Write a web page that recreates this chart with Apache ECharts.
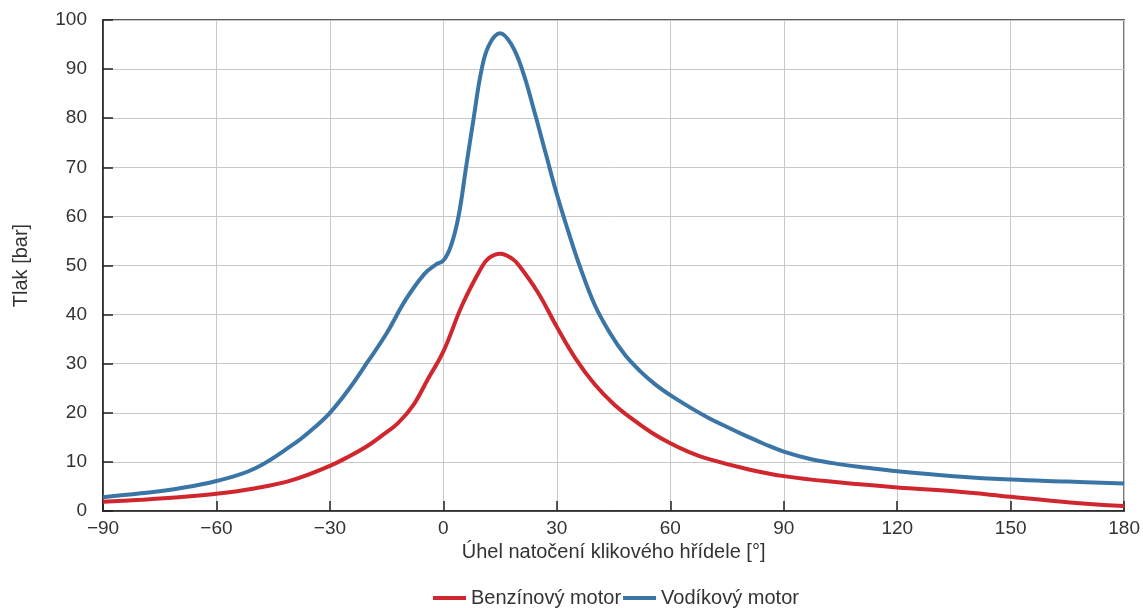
<!DOCTYPE html>
<html lang="cs">
<head>
<meta charset="utf-8">
<title>Tlak ve válci</title>
<script src="https://cdn.jsdelivr.net/npm/echarts@6/dist/echarts.min.js"></script>
<style>
  html, body { margin: 0; padding: 0; background: #ffffff; }
  #chart { width: 1143px; height: 608px; }
</style>
</head>
<body>
<div id="chart"></div>
<script>
// Úhel natočení klikového hřídele [°] a tlak [bar] – benzínový motor
const angleBenzin = [-90, -80, -70, -60, -50, -40, -30, -25, -20, -16, -12, -8, -4, 0, 5, 10, 12, 15, 18, 20, 25, 30, 35, 40, 45, 50, 55, 60, 65, 70, 80, 90, 105, 120, 135, 150, 165, 180];
const pressureBenzin = [1.9, 2.3, 2.8, 3.5, 4.6, 6.3, 9.2, 11.1, 13.3, 15.5, 17.9, 21.5, 27, 32.5, 42, 49.5, 51.5, 52.4, 51.5, 50, 44.5, 37.5, 31, 25.8, 21.8, 18.7, 16.0, 13.8, 12.0, 10.6, 8.6, 7.1, 5.8, 4.8, 4.0, 2.9, 1.8, 1.0];

// Vodíkový motor
const angleVodik = [-90, -80, -70, -60, -50, -40, -35, -30, -25, -20, -15, -10, -5, -2, 0, 2, 4, 6, 8, 10, 12, 15, 18, 21, 24, 27, 30, 33, 36, 40, 44, 48, 52, 56, 60, 65, 70, 75, 80, 85, 90, 97, 105, 112, 120, 135, 150, 165, 180];
const pressureVodik = [2.8, 3.6, 4.6, 6.1, 8.6, 13.4, 16.4, 20, 24.8, 30.4, 36.2, 43, 48.3, 50.2, 51, 54, 60, 70, 80, 89.5, 94.8, 97.3, 95, 89.5, 81.5, 73, 64.5, 57, 50, 42, 36.3, 31.8, 28.5, 25.8, 23.6, 21.2, 19.0, 17.1, 15.3, 13.6, 12.1, 10.6, 9.5, 8.8, 8.1, 7.1, 6.4, 6.0, 5.6];

const seriesNames = ['Benzínový motor', 'Vodíkový motor'];
const seriesColors = ['#d0272e', '#3a75a6'];

const pairs = (xs, ys) => xs.map((x, i) => [x, ys[i]]);

const textColor = '#333333';
const frameColor = '#222222';

const chart = echarts.init(document.getElementById('chart'), null, { renderer: 'canvas' });

chart.setOption({
  animation: false,
  backgroundColor: '#ffffff',
  textStyle: { fontFamily: '"Liberation Sans", Arial, sans-serif' },
  grid: {
    left: 103, right: 18, top: 20, bottom: 97,
    show: true, borderColor: frameColor, borderWidth: 1.5, backgroundColor: 'transparent'
  },
  legend: {
    data: seriesNames,
    left: 428,
    top: 583,
    icon: 'rect',
    itemWidth: 33,
    itemHeight: 4,
    itemGap: 2,
    textStyle: { fontSize: 20, color: textColor }
  },
  xAxis: {
    type: 'value',
    min: -90, max: 180, interval: 30,
    name: 'Úhel natočení klikového hřídele [°]',
    nameLocation: 'middle',
    nameGap: 29,
    nameTextStyle: { fontSize: 20, color: textColor },
    axisLine: { show: true, onZero: false, lineStyle: { color: frameColor, width: 1.5 } },
    axisTick: { show: true, inside: true, length: 10, lineStyle: { color: frameColor, width: 1.5 } },
    axisLabel: {
      fontSize: 19, color: textColor, margin: 8,
      formatter: v => (v < 0 ? '\u2212' + Math.abs(v) : String(v))
    },
    splitLine: { show: true, lineStyle: { color: '#c8c8c8', width: 1 } }
  },
  yAxis: {
    type: 'value',
    min: 0, max: 100, interval: 10,
    name: 'Tlak [bar]',
    nameLocation: 'middle',
    nameRotate: 90,
    nameGap: 72,
    nameTextStyle: { fontSize: 20, color: textColor },
    axisLine: { show: true, onZero: false, lineStyle: { color: frameColor, width: 1.5 } },
    axisTick: { show: true, inside: true, length: 10, lineStyle: { color: frameColor, width: 1.5 } },
    axisLabel: { fontSize: 19, color: textColor, margin: 16 },
    splitLine: { show: true, lineStyle: { color: '#c8c8c8', width: 1 } }
  },
  series: [
    {
      name: seriesNames[0],
      type: 'line',
      data: pairs(angleBenzin, pressureBenzin),
      smooth: 0.4,
      showSymbol: false,
      color: seriesColors[0],
      lineStyle: { width: 4, color: seriesColors[0] },
      z: 3
    },
    {
      name: seriesNames[1],
      type: 'line',
      data: pairs(angleVodik, pressureVodik),
      smooth: 0.4,
      showSymbol: false,
      color: seriesColors[1],
      lineStyle: { width: 4, color: seriesColors[1] },
      z: 4
    }
  ]
});
</script>
</body>
</html>
